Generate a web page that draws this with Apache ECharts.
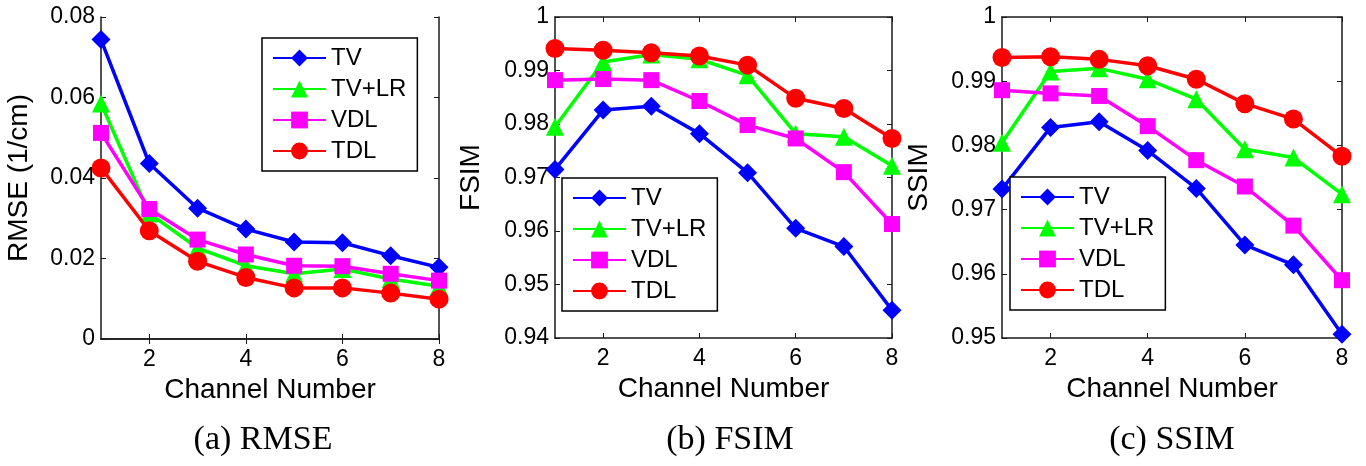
<!DOCTYPE html>
<html>

<head>
    <meta http-equiv="Content-Type" content="text/html; charset=utf-8" />
    <title>RMSE / FSIM / SSIM vs channel number</title>
    <style type="text/css">
    body,
    html {
        width: 100%;
        height: 100%;
        margin: 0;
        overflow: hidden;
        background-color: #fff;
    }

    #container {
        width: 1366px;
        height: 466px;
    }
    </style>
</head>

<body>
    <div id="container"></div>
</body>
<script src="https://cdn.jsdelivr.net/npm/echarts@6/dist/echarts.min.js"></script>
<script>
// channel numbers (x values)
var channels = [1, 2, 3, 4, 5, 6, 7, 8];
var xTicks = [2, 4, 6, 8];
var methods = ['TV', 'TV+LR', 'VDL', 'TDL'];

// (a) RMSE (1/cm)
var rmseTV = [0.0744, 0.0436, 0.0325, 0.0273, 0.0241, 0.0239, 0.0207, 0.0178];
var rmseTVLR = [0.0585, 0.0312, 0.0226, 0.0182, 0.0162, 0.0174, 0.0149, 0.0131];
var rmseVDL = [0.0512, 0.0323, 0.0247, 0.0210, 0.0182, 0.0181, 0.0162, 0.0145];
var rmseTDL = [0.0425, 0.0269, 0.0193, 0.0153, 0.0127, 0.0127, 0.0114, 0.0099];

// (b) FSIM
var fsimTV = [0.9715, 0.9826, 0.9833, 0.9782, 0.9709, 0.9605, 0.9571, 0.9452];
var fsimTVLR = [0.9795, 0.9916, 0.9930, 0.9921, 0.9891, 0.9782, 0.9776, 0.9722];
var fsimVDL = [0.9882, 0.9884, 0.9882, 0.9843, 0.9798, 0.9773, 0.9710, 0.9613];
var fsimTDL = [0.9941, 0.9938, 0.9933, 0.9927, 0.9910, 0.9848, 0.9829, 0.9773];

// (c) SSIM
var ssimTV = [0.9732, 0.9828, 0.9837, 0.9792, 0.9733, 0.9645, 0.9614, 0.9506];
var ssimTVLR = [0.9804, 0.9915, 0.9920, 0.9903, 0.9872, 0.9794, 0.9781, 0.9724];
var ssimVDL = [0.9886, 0.9881, 0.9877, 0.9830, 0.9777, 0.9736, 0.9675, 0.9590];
var ssimTDL = [0.9937, 0.9938, 0.9934, 0.9924, 0.9903, 0.9865, 0.9841, 0.9783];

var panels = [
    { name: 'RMSE (1/cm)', caption: '(a) RMSE', min: 0, max: 0.08, interval: 0.02,
      data: [rmseTV, rmseTVLR, rmseVDL, rmseTDL] },
    { name: 'FSIM', caption: '(b) FSIM', min: 0.94, max: 1, interval: 0.01,
      data: [fsimTV, fsimTVLR, fsimVDL, fsimTDL] },
    { name: 'SSIM', caption: '(c) SSIM', min: 0.95, max: 1, interval: 0.01,
      data: [ssimTV, ssimTVLR, ssimVDL, ssimTDL] }
];

var colors = ['#0000ff', '#00ff00', '#ff00ff', '#ff0000'];
var symbols = ['diamond', 'triangle', 'rect', 'circle'];
var symbolSizes = [19, 18, 16, 19];

var grids = [
    { left: 101, top: 17, width: 338, height: 322 },
    { left: 555, top: 17, width: 337, height: 321 },
    { left: 1002, top: 17, width: 340, height: 321 }
];
var legendPos = [[262, 38], [562, 178], [1010, 177]];
var captionX = [263, 730, 1172];
var yNameGap = [68, 70, 69];

var axisColor = '#1a1a1a';
var tickFont = { fontFamily: 'Liberation Sans', fontSize: 23, color: '#000' };

var xAxes = [], yAxes = [], series = [], legends = [], graphics = [];

panels.forEach(function(p, g) {
    // bottom / left axes with labels
    xAxes.push({
        type: 'value', gridIndex: g, min: 1, max: 8,
        name: 'Channel Number', nameLocation: 'middle', nameGap: 34,
        nameTextStyle: { fontFamily: 'Liberation Sans', fontSize: 28, color: '#000' },
        axisLine: { lineStyle: { color: axisColor, width: 1.5 } },
        axisTick: { inside: true, length: 5, customValues: xTicks, lineStyle: { color: axisColor } },
        axisLabel: Object.assign({ margin: 9, customValues: xTicks }, tickFont),
        splitLine: { show: false }
    });
    // top axis (box edge)
    xAxes.push({
        type: 'value', gridIndex: g, min: 1, max: 8, position: 'top',
        axisLine: { lineStyle: { color: axisColor, width: 1.5 } },
        axisTick: { inside: true, length: 5, customValues: xTicks, lineStyle: { color: axisColor } },
        axisLabel: { show: false },
        splitLine: { show: false }
    });
    yAxes.push({
        type: 'value', gridIndex: g, min: p.min, max: p.max, interval: p.interval,
        name: p.name, nameLocation: 'middle', nameGap: yNameGap[g], nameRotate: 90,
        nameTextStyle: { fontFamily: 'Liberation Sans', fontSize: 28, color: '#000' },
        axisLine: { show: true, lineStyle: { color: axisColor, width: 1.5 } },
        axisTick: { show: true, inside: true, length: 5, lineStyle: { color: axisColor } },
        axisLabel: Object.assign({ margin: 6 }, tickFont),
        splitLine: { show: false }
    });
    // right axis (box edge)
    yAxes.push({
        type: 'value', gridIndex: g, min: p.min, max: p.max, interval: p.interval, position: 'right',
        axisLine: { show: true, lineStyle: { color: axisColor, width: 1.5 } },
        axisTick: { show: true, inside: true, length: 5, lineStyle: { color: axisColor } },
        axisLabel: { show: false },
        splitLine: { show: false }
    });

    p.data.forEach(function(vals, k) {
        series.push({
            name: methods[k],
            type: 'line',
            xAxisIndex: g * 2,
            yAxisIndex: g * 2,
            data: channels.map(function(c, i) { return [c, vals[i]]; }),
            symbol: symbols[k],
            symbolSize: symbolSizes[k],
            showAllSymbol: true,
            color: colors[k],
            lineStyle: { color: colors[k], width: 3.5 },
            itemStyle: { color: colors[k] },
            animation: false,
            z: 2 + k
        });
    });

    legends.push({
        data: methods,
        orient: 'vertical',
        left: legendPos[g][0],
        top: legendPos[g][1],
        itemWidth: 53,
        itemHeight: 21,
        itemGap: 7,
        padding: [8, 11, 8, 10],
        borderColor: '#000',
        borderWidth: 1.5,
        backgroundColor: '#fff',
        selectedMode: false,
        textStyle: { fontFamily: 'Liberation Sans', fontSize: 24, color: '#000', padding: [0, 0, 0, 0] }
    });

    graphics.push({
        type: 'text',
        x: captionX[g],
        y: 440,
        style: {
            text: p.caption,
            font: '34px "Liberation Serif"',
            fill: '#000',
            textAlign: 'center',
            textVerticalAlign: 'middle'
        }
    });
});

var myChart = echarts.init(document.getElementById('container'));
var option = {
    animation: false,
    backgroundColor: '#fff',
    grid: grids,
    xAxis: xAxes,
    yAxis: yAxes,
    legend: legends,
    series: series,
    graphic: graphics
};
myChart.setOption(option);
</script>

</html>
